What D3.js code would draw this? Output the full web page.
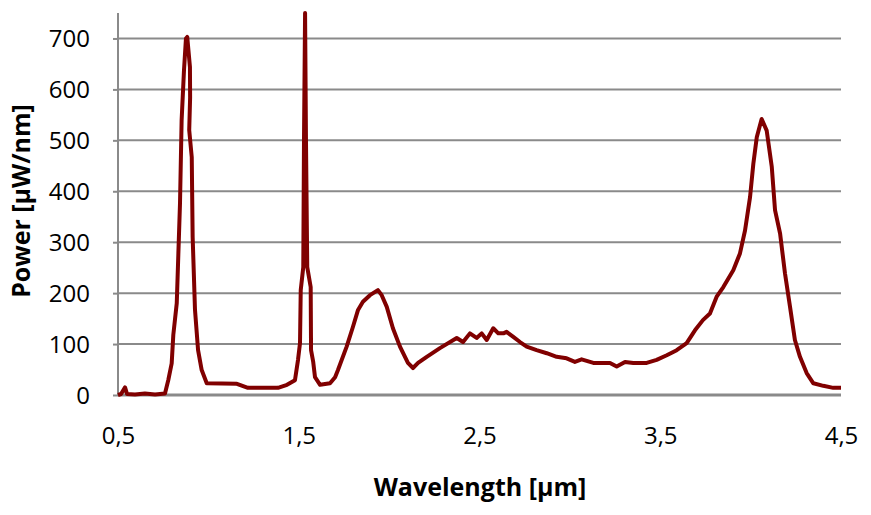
<!DOCTYPE html>
<meta charset="utf-8">
<title>Power spectrum</title>
<style>
  body { margin: 0; background: #fff; }
  text { font-family: "Open Sans", sans-serif; fill: #000; }
</style>
<body>
<div id="chart"></div>
<script src="https://d3js.org/d3.v7.min.js"></script>
<script>

// wavelength in µm
var wavelength = [
  0.500, 0.517, 0.539, 0.550, 0.594, 0.649, 0.705, 0.760, 0.778, 0.797,
  0.806, 0.825, 0.834, 0.843, 0.852, 0.865, 0.876, 0.883, 0.898, 0.899,
  0.894, 0.908, 0.913, 0.926, 0.943, 0.963, 0.991, 1.158, 1.219, 1.385,
  1.435, 1.479, 1.496, 1.507, 1.511, 1.525, 1.529, 1.535, 1.540, 1.547,
  1.566, 1.568, 1.580, 1.590, 1.618, 1.673, 1.701, 1.717, 1.765, 1.800,
  1.828, 1.855, 1.894, 1.938, 1.959, 1.987, 2.021, 2.060, 2.104, 2.132,
  2.160, 2.208, 2.281, 2.374, 2.409, 2.447, 2.484, 2.512, 2.540, 2.576,
  2.604, 2.632, 2.650, 2.687, 2.724, 2.761, 2.816, 2.872, 2.927, 2.982,
  3.028, 3.065, 3.130, 3.222, 3.259, 3.305, 3.351, 3.425, 3.480, 3.536,
  3.591, 3.646, 3.692, 3.736, 3.775, 3.812, 3.849, 3.904, 3.941, 3.969,
  3.997, 4.015, 4.034, 4.061, 4.089, 4.117, 4.135, 4.163, 4.190, 4.218,
  4.245, 4.273, 4.310, 4.347, 4.402, 4.457, 4.500
];

// power in µW/nm
var power = [
  0, 2, 15, 2, 1, 3, 1, 3, 29, 62,
  118, 180, 278, 376, 539, 637, 700, 703, 644, 584,
  520, 467, 310, 167, 88, 49, 23, 22, 14, 14,
  20, 29, 69, 102, 206, 251, 500, 750, 500, 251,
  212, 88, 65, 35, 20, 23, 35, 49, 95, 134,
  167, 183, 196, 206, 196, 173, 131, 95, 63, 53,
  63, 75, 92, 112, 104, 121, 112, 121, 108, 131,
  121, 121, 124, 114, 104, 95, 88, 82, 75, 72,
  65, 70, 63, 63, 56, 65, 63, 63, 69, 78,
  88, 102, 127, 147, 160, 193, 212, 245, 278, 323,
  389, 454, 506, 542, 519, 448, 363, 317, 239, 173,
  108, 75, 43, 23, 18, 14, 14
];

var xTicks = [0.5, 1.5, 2.5, 3.5, 4.5];
var yTicks = [0, 100, 200, 300, 400, 500, 600, 700];

var W = 871, H = 515;
var margin = {top: 13, right: 30, bottom: 120, left: 118};
var width = W - margin.left - margin.right,
    height = H - margin.top - margin.bottom;

var svg = d3.select("#chart")
  .append("svg")
    .attr("width", W)
    .attr("height", H);

var g = svg.append("g")
    .attr("transform", "translate(" + margin.left + "," + margin.top + ")");

var x = d3.scaleLinear().domain([0.5, 4.5]).range([0, width]);
var y = d3.scaleLinear().domain([0, 750]).range([height, 0]);

// horizontal gridlines
g.append("g")
  .selectAll("line")
  .data(yTicks.filter(function(d) { return d > 0; }))
  .enter().append("line")
    .attr("x1", 0)
    .attr("x2", width)
    .attr("y1", function(d) { return y(d); })
    .attr("y2", function(d) { return y(d); })
    .attr("stroke", "#8a8a8a")
    .attr("stroke-width", 2);

// y axis
var yAxis = g.append("g")
  .call(d3.axisLeft(y).tickValues(yTicks).tickSize(5).tickPadding(23));
yAxis.select(".domain").attr("stroke", "#8a8a8a").attr("stroke-width", 2)
  .attr("d", "M0," + height + "V0");
yAxis.selectAll(".tick line").attr("stroke", "#8a8a8a").attr("stroke-width", 2);
yAxis.selectAll(".tick text")
  .style("font-size", "24px")
  .attr("dy", "0.35em");

// x axis
var xAxis = g.append("g")
  .attr("transform", "translate(0," + height + ")")
  .call(d3.axisBottom(x).tickValues(xTicks).tickSize(0).tickPadding(32)
    .tickFormat(function(d) { return d3.format(".1f")(d).replace(".", ","); }));
xAxis.select(".domain").attr("stroke", "#8a8a8a").attr("stroke-width", 3)
  .attr("d", "M0,0H" + width);
xAxis.selectAll(".tick text").style("font-size", "24px");

// the curve
var pts = wavelength.map(function(w, i) { return [w, power[i]]; });
g.append("path")
  .datum(pts)
  .attr("fill", "none")
  .attr("stroke", "#800000")
  .attr("stroke-width", 4)
  .attr("stroke-linejoin", "round")
  .attr("d", d3.line()
    .x(function(d) { return x(d[0]); })
    .y(function(d) { return y(d[1]); }));

// axis titles
svg.append("text")
  .attr("x", 480)
  .attr("y", 496)
  .attr("text-anchor", "middle")
  .style("font-size", "25px")
  .style("font-weight", "bold")
  .text("Wavelength [µm]");

svg.append("text")
  .attr("transform", "translate(30,201) rotate(-90)")
  .attr("text-anchor", "middle")
  .style("font-size", "25px")
  .style("font-weight", "bold")
  .text("Power [µW/nm]");

</script>
</body>
